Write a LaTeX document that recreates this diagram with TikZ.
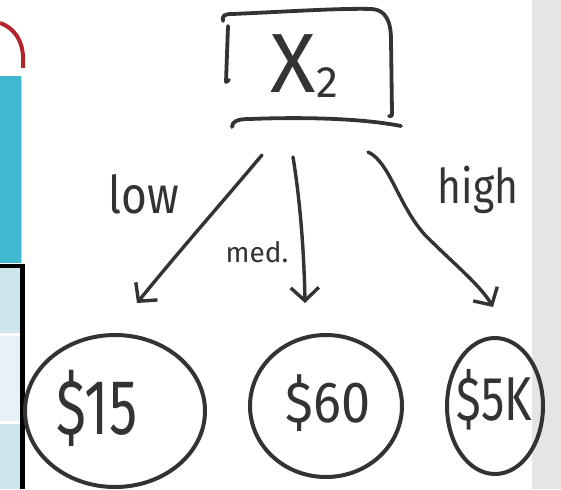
\documentclass[tikz,border=0pt]{standalone}
\usepackage{fontspec}
\setmainfont{Fira Sans}
\usetikzlibrary{arrows.meta,shapes.geometric}
\definecolor{ink}{HTML}{333333}
\definecolor{tealc}{HTML}{40B8D0}
\definecolor{redc}{HTML}{B3242B}
\definecolor{cellA}{HTML}{CDE6EC}
\definecolor{cellB}{HTML}{E6F2F8}
\definecolor{grayband}{HTML}{E5E5E5}
\begin{document}
\begin{tikzpicture}[x=1pt,y=-1pt,
  pen/.style={draw=ink, line width=3.8pt, line cap=round, line join=round},
  arr/.style={pen, line width=3.4pt, -{Straight Barb[length=13pt,width=28pt]}},
  lbl/.style={inner sep=0pt, text=ink},
  bubble/.style={ellipse, draw=ink, line width=4pt, inner sep=0pt}]
\useasboundingbox (0,0) rectangle (561,489);
\fill[white] (0,0) rectangle (561,489);
\fill[grayband] (532,0) rectangle (561,489);
% left edge decorations
\draw[redc, line width=4pt] (0,23) .. controls (15,28) and (23,42) .. (23,58) -- (23,68);
\fill[tealc] (0,76) rectangle (21,263);
\draw[white!55!tealc, line width=1pt] (21.5,76) -- (21.5,263);
\fill[cellA] (0,268) rectangle (20,333);
\fill[cellB] (0,336) rectangle (20,421);
\fill[cellA] (0,424) rectangle (20,489);
\draw[black, line width=4.5pt] (0,266) -- (22.5,266) -- (22.5,489);
% X2 box (hand drawn)
\draw[pen] (223,21) .. controls (222,16) and (224,14) .. (232,14) .. controls (280,12) and (340,8) .. (372,9) .. controls (385,10) and (391,20) .. (391,40) -- (392,113) .. controls (392,116) and (391,117) .. (389,116);
\draw[pen] (228,26) -- (226,82) -- (229,80);
\draw[pen] (232,127) .. controls (232,121) and (238,119) .. (250,119) .. controls (300,117) and (360,118) .. (401,126);
\node[lbl, anchor=base west] (x2) at (270,93) {\fontsize{84}{84}\selectfont X\kern1pt\raisebox{-5pt}{\fontsize{44}{44}\selectfont 2}};
% outcome bubbles
\node[bubble, minimum width=180pt, minimum height=152pt] (c15) at (115,411) {};
\node[bubble, minimum width=152pt, minimum height=142pt] (c60) at (326,406) {};
\node[bubble, minimum width=96pt, minimum height=136pt] (c5k) at (495,406) {};
\node[lbl] (t15) at (97,408) {\fontsize{78}{78}\selectfont\scalebox{0.72}[1]{\$15}};
\node[lbl] (t60) at (328,403) {\fontsize{58}{58}\selectfont\scalebox{0.9}[1]{\$60}};
\node[lbl] (t5k) at (494,400) {\fontsize{62}{62}\selectfont\scalebox{0.75}[1]{\$5K}};
% connectors
\coordinate (lowS) at (262,155); \coordinate (lowE) at (137,303);
\coordinate (medS) at (293,157); \coordinate (medE) at (305,303);
\coordinate (highS) at (368,152); \coordinate (highE) at (493,307);
\draw[arr] (lowS) .. controls (220,205) and (180,250) .. (lowE);
\draw[arr] (medS) .. controls (300,200) and (304,250) .. (medE);
\draw[arr] (highS) .. controls (390,162) and (398,205) .. (425,235) .. controls (455,265) and (480,285) .. (highE);
% edge labels
\node[lbl, anchor=base] (low) at (144,213) {\fontsize{52}{52}\selectfont\scalebox{0.85}[1]{low}};
\node[lbl, anchor=base] (med) at (257,262) {\fontsize{28}{28}\selectfont med.};
\node[lbl, anchor=base] (high) at (478,203) {\fontsize{48}{48}\selectfont\scalebox{0.85}[1]{high}};
\end{tikzpicture}
\end{document}
